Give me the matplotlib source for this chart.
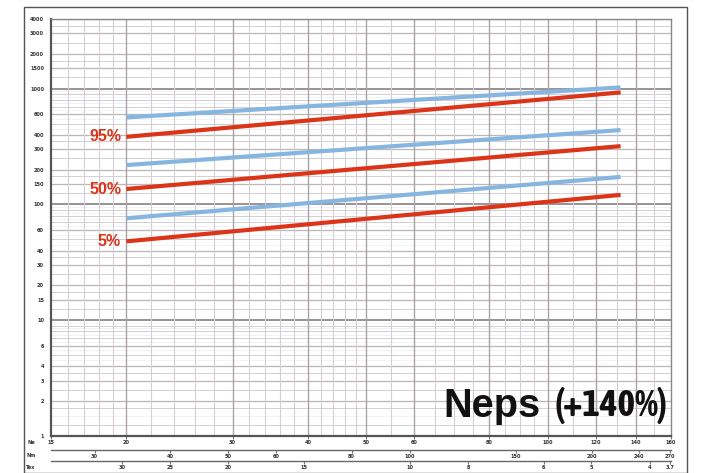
import numpy as np
import matplotlib
matplotlib.use("Agg")
import matplotlib.pyplot as plt
from matplotlib.patches import Rectangle

# ---- data ----
ne_points = [20, 132]
red_95 = [384, 929]
blue_95 = [565, 1026]
red_50 = [136, 319]
blue_50 = [219, 439]
red_5 = [48, 121]
blue_5 = [76, 173]
pct_labels = ["95%", "50%", "5%"]

y_ticks = [1, 2, 3, 4, 6, 10, 15, 20, 30, 40, 60, 100, 150, 200, 300, 400, 600,
           1000, 1500, 2000, 3000, 4000]
ne_ticks = [15, 20, 30, 40, 50, 60, 80, 100, 120, 140, 160]
nm_ticks = [25, 30, 40, 50, 60, 80, 100, 150, 200, 240, 270]
tex_ticks = [40, 30, 25, 20, 15, 10, 8, 6, 5, 4, 3.7]
ne_minor = [16, 17, 18, 19, 22, 24, 26, 28, 32, 34, 36, 38, 42, 44, 46, 48,
            55, 65, 70, 75, 85, 90, 95, 110, 130, 150]
title_word = "Neps"
title_pct = "(+140%)"

RED = "#dc3419"
BLUE = "#86b6df"

W, H = 705, 473
fig = plt.figure(figsize=(W / 100, H / 100), dpi=100)
fig.patch.set_facecolor("white")

# outer frame
fig.add_artist(Rectangle((24 / W, 0.5 / H), (687 - 24) / W, (466 - 0.5) / H,
                         transform=fig.transFigure, fill=False,
                         edgecolor="#555555", lw=1.0))

L, R, T, B = 51, 671, 19, 436
ax = fig.add_axes([L / W, 1 - B / H, (R - L) / W, (B - T) / H])
ax.set_xscale("log")
ax.set_yscale("log")
ax.set_xlim(15, 160)
ax.set_ylim(1, 4000)
ax.set_facecolor("white")

# faint fine background grid
for d in [1, 10, 100, 1000]:
    for m in np.arange(1.5, 10, 0.5):
        v = d * m
        if v < 4000:
            ax.axhline(v, color="#e9f0f6", lw=0.5, zorder=0)
# minor horizontal
for d in [1, 10, 100, 1000]:
    for m in [1.25, 1.75, 2.5, 3.5, 5, 7, 8, 9]:
        v = d * m
        if v < 4000:
            ax.axhline(v, color="#d4cfd0", lw=0.7, zorder=1)
for v in y_ticks:
    lw = 1.4 if v in (10, 100, 1000) else 0.9
    col = "#9a9293" if v in (10, 100, 1000) else "#bdb6b7"
    ax.axhline(v, color=col, lw=lw, zorder=1)
for v in ne_minor:
    ax.axvline(v, color="#d4cfd0", lw=0.8, zorder=1)
for v in ne_ticks[1:-1]:
    ax.axvline(v, color="#aaa2a3", lw=1.0, zorder=1)

for ys, col in [(blue_95, BLUE), (red_95, RED), (blue_50, BLUE),
                (red_50, RED), (blue_5, BLUE), (red_5, RED)]:
    ax.plot(ne_points, ys, color=col, lw=3.0, solid_capstyle="butt", zorder=3)

for lab, yv in zip(pct_labels, [red_95[0], red_50[0], red_5[0]]):
    ax.text(19.6, yv, lab, color=RED, fontsize=11.5, fontweight="bold",
            ha="right", va="center", family="Liberation Sans", zorder=4)

# title texts, sized to fit the reference widths
ty = 1 - 406 / H
t_word = fig.text(443 / W, ty, title_word, ha="left", va="center",
                  fontsize=27, fontweight="bold", family="Liberation Sans",
                  color="#111111", zorder=5)
t_pct = fig.text(667 / W, ty, title_pct, ha="right", va="center",
                 fontsize=30, fontweight="bold",
                 family=["Asap Condensed", "Liberation Sans"],
                 color="#111111", zorder=5)
fig.canvas.draw()
rend = fig.canvas.get_renderer()
for t, target in [(t_word, 97.0), (t_pct, 113.0)]:
    w = t.get_window_extent(rend).width
    t.set_fontsize(t.get_fontsize() * target / w)

for side in ["left", "bottom"]:
    ax.spines[side].set_color("#555555")
    ax.spines[side].set_linewidth(1.6)
for side in ["right", "top"]:
    ax.spines[side].set_color("#888888")
    ax.spines[side].set_linewidth(1.0)

tick_font = dict(fontsize=3.6, fontweight="bold", color="#333333")
ax.set_yticks(y_ticks)
ax.set_yticklabels([str(v) for v in y_ticks], **tick_font)
ax.yaxis.set_minor_locator(matplotlib.ticker.NullLocator())
ax.tick_params(axis="y", length=0, pad=5)

ax.set_xticks(ne_ticks)
ax.set_xticklabels([str(v) for v in ne_ticks], **tick_font)
ax.xaxis.set_minor_locator(matplotlib.ticker.NullLocator())
ax.tick_params(axis="x", length=2, pad=1, color="#777777")

ne2nm = (lambda x: np.asarray(x) * 1.693, lambda x: np.asarray(x) / 1.693)
ne2tex = (lambda x: 590.5 / np.asarray(x), lambda x: 590.5 / np.asarray(x))

sec1 = ax.secondary_xaxis(-(450 - B) / (B - T), functions=ne2nm)
sec1.set_xticks(nm_ticks)
sec1.set_xticklabels([str(v) for v in nm_ticks], **tick_font)
sec1.xaxis.set_minor_locator(matplotlib.ticker.NullLocator())
sec1.tick_params(axis="x", length=2, pad=1, color="#777777")
sec1.spines["bottom"].set_color("#666666")
sec1.spines["bottom"].set_linewidth(1.0)

sec2 = ax.secondary_xaxis(-(461 - B) / (B - T), functions=ne2tex)
sec2.set_xticks(tex_ticks)
sec2.set_xticklabels([str(v) for v in tex_ticks], **tick_font)
sec2.xaxis.set_minor_locator(matplotlib.ticker.NullLocator())
sec2.tick_params(axis="x", length=2, pad=1, color="#777777")
sec2.spines["bottom"].set_color("#666666")
sec2.spines["bottom"].set_linewidth(1.0)

for lab, yy in zip(["Ne", "Nm", "Tex"], [443, 455, 467]):
    fig.text(31 / W, 1 - yy / H, lab, ha="center", va="center", **tick_font)

fig.savefig("out.png", dpi=100, facecolor="white")
